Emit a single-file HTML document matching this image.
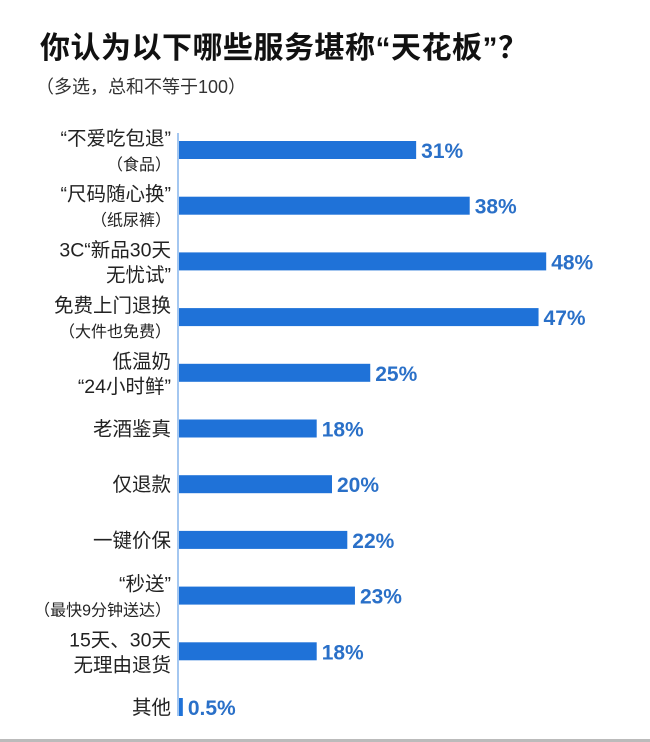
<!DOCTYPE html>
<html><head><meta charset="utf-8">
<style>
body{margin:0;width:650px;height:742px;background:#fff;overflow:hidden;font-family:"Liberation Sans","Noto Sans CJK SC",sans-serif;position:relative}
.title{position:absolute;left:40px;top:23px;font-size:30px;font-weight:bold;color:#111;letter-spacing:0.5px}
.sub{position:absolute;left:36px;top:73px;font-size:18px;color:#333}
.bottom{position:absolute;left:0;top:739px;width:650px;height:3px;background:#bbb}
</style></head><body>
<div class="title">你认为以下哪些服务堪称“天花板”？</div>
<div class="sub">（多选，总和不等于100）</div>
<svg id="chart" width="650" height="742" style="position:absolute;left:0;top:0"></svg>
<div class="bottom"></div>
<script>
const labels=[["“不爱吃包退”","（食品）"],["“尺码随心换”","（纸尿裤）"],["3C“新品30天","无忧试”"],["免费上门退换","（大件也免费）"],["低温奶","“24小时鲜”"],["老酒鉴真"],["仅退款"],["一键价保"],["“秒送”","（最快9分钟送达）"],["15天、30天","无理由退货"],["其他"]];
const values=[31,38,48,47,25,18,20,22,23,18,0.5];
const valueLabels=["31%","38%","48%","47%","25%","18%","20%","22%","23%","18%","0.5%"];
const svg=document.getElementById('chart');
const NS='http://www.w3.org/2000/svg';
const x0=179, scale=7.65, y0=150, step=55.7, bh=18;
const xs=v=>x0+v*scale; const ys=i=>y0+i*step;
function mk(t,a){const e=document.createElementNS(NS,t);for(const k in a)e.setAttribute(k,a[k]);svg.appendChild(e);return e;}
const ax=mk('line',{x1:178,x2:178,y1:133,y2:716,stroke:'#4a8fe0','stroke-width':1});


values.forEach((v,i)=>{
  const cy=ys(i);
  const w=Math.max(3,xs(v)-x0);
  const r=mk('rect',{x:x0,y:cy-bh/2,width:w,height:bh,fill:'#1f72d8'});
  
  
  const t=mk('text',{x:x0+w+5,y:cy+8,'font-size':21,'font-weight':'bold',fill:'#2a70c8'});
  t.textContent=valueLabels[i];
  
  
  const lines=labels[i];
  lines.forEach((ln,j)=>{
    const small=ln.startsWith('（');
    const off=lines.length==1?0:(j==0?-12:13);
    const lt=mk('text',{x:171,y:cy+off+7,'font-size':small?16:19.5,fill:'#222','text-anchor':'end'});
    lt.textContent=ln;
    
    
  });
});
</script>
</body></html>
